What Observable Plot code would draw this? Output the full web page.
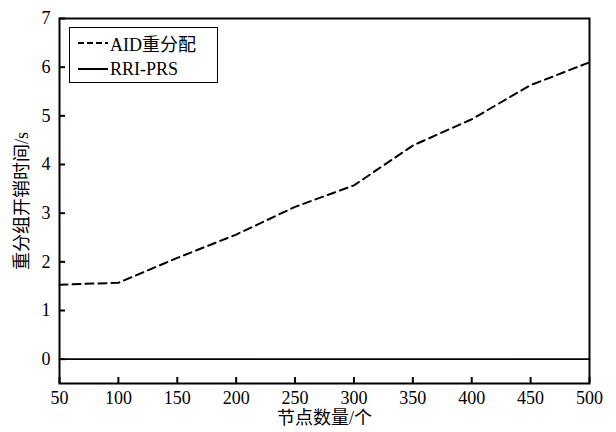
<!DOCTYPE html>
<html>
<head>
<meta charset="utf-8">
<script src="https://cdn.jsdelivr.net/npm/d3@7"></script>
<script src="https://cdn.jsdelivr.net/npm/@observablehq/plot@0.6"></script>
<style>
  html, body { margin: 0; padding: 0; background: #fff; }
  #wrap { position: relative; width: 616px; height: 432px; }
  #legend {
    position: absolute; left: 69px; top: 27px; width: 147px; height: 54px;
    border: 1.5px solid #000; background: #fff;
    font-family: "Liberation Serif", "Noto Sans CJK SC", serif; font-size: 18px; color: #000;
  }
  .row { position: absolute; left: 8px; height: 22px; display: flex; align-items: center; }
  .row svg { margin-right: 2px; }
</style>
</head>
<body>
<div id="wrap"></div>
<script>
const nodes = [50, 100, 150, 200, 250, 300, 350, 400, 450, 500];
const aidTime = [1.53, 1.57, 2.08, 2.56, 3.13, 3.57, 4.39, 4.93, 5.63, 6.10];
const rriTime = [0, 0, 0, 0, 0, 0, 0, 0, 0, 0];
const xTicks = [50, 100, 150, 200, 250, 300, 350, 400, 450, 500];
const yTicks = [0, 1, 2, 3, 4, 5, 6, 7];
const seriesNames = ["AID重分配", "RRI-PRS"];

const rows = nodes.map((n, i) => ({n, aid: aidTime[i], rri: rriTime[i]}));

const W = 616, H = 432, mL = 59, mR = 27, mT = 18, mB = 49;
const font = "'Liberation Serif', 'Noto Sans CJK SC', serif";

const chart = Plot.plot({
  width: W, height: H,
  marginLeft: mL, marginRight: mR, marginTop: mT, marginBottom: mB,
  style: {fontFamily: font, fontSize: "18px", color: "#000", background: "#fff", overflow: "visible"},
  x: {domain: [50, 500]},
  y: {domain: [-0.5, 7]},
  marks: [
    Plot.line(rows, {x: "n", y: "rri", stroke: "#000", strokeWidth: 1.6}),
    Plot.line(rows, {x: "n", y: "aid", stroke: "#000", strokeWidth: 2, strokeDasharray: "8,5"}),
    Plot.tickX(xTicks, {x: d => d, insetTop: H - mT - mB - 6, stroke: "#000", strokeWidth: 2}),
    Plot.tickY(yTicks, {y: d => d, insetRight: W - mL - mR - 6, stroke: "#000", strokeWidth: 2}),
    Plot.axisX({ticks: xTicks, tickSize: 0, tickPadding: 8, label: "节点数量/个", labelArrow: "none", labelAnchor: "center", labelOffset: 40, fontSize: 18}),
    Plot.axisY({ticks: yTicks, tickSize: 0, tickPadding: 9, label: "重分组开销时间/s", labelArrow: "none", labelAnchor: "center", labelOffset: 44, fontSize: 18}),
    Plot.frame({stroke: "#000", strokeWidth: 2})
  ]
});

const wrap = document.getElementById("wrap");
wrap.appendChild(chart);

const legend = document.createElement("div");
legend.id = "legend";
const dashes = ["6,3", null];
seriesNames.forEach((name, i) => {
  const r = document.createElement("div");
  r.className = "row";
  r.style.top = (4 + i * 26) + "px";
  r.innerHTML = `<svg width="30" height="10"><line x1="0" y1="5" x2="30" y2="5" stroke="#000" stroke-width="2" ${dashes[i] ? `stroke-dasharray="${dashes[i]}"` : ""}/></svg><span>${name}</span>`;
  legend.appendChild(r);
});
wrap.appendChild(legend);
</script>
</body>
</html>
